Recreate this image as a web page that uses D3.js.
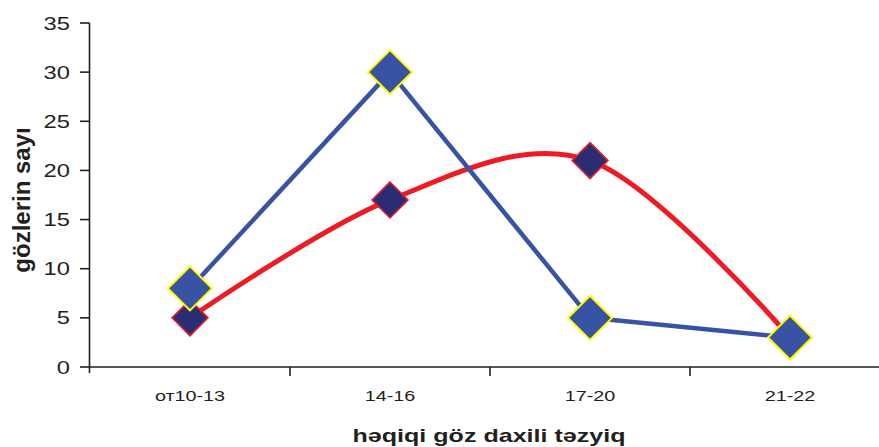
<!DOCTYPE html>
<html>
<head>
<meta charset="utf-8">
<script src="https://cdn.jsdelivr.net/npm/d3@7"></script>
<style>
  html, body { margin: 0; padding: 0; background: #fff; }
  svg { display: block; }
  text { font-family: "Liberation Sans", Arial, sans-serif; fill: #231f20; }
</style>
</head>
<body>
<svg id="chart" width="879" height="447"></svg>
<script>
// Pressure ranges on the x axis
const categories = ["от10-13", "14-16", "17-20", "21-22"];
// Eye counts per range, two groups
const seriesBlue = [8, 30, 5, 3];
const seriesRed = [5, 17, 21, 3];
const yTicks = [0, 5, 10, 15, 20, 25, 30, 35];

const W = 879, H = 447;
const svg = d3.select("#chart");
const sx = 1.32; // text is drawn wider than tall

const x = d3.scaleBand().domain(categories).range([90, 890]).paddingInner(0).paddingOuter(0);
const xc = c => x(c) + x.bandwidth() / 2;
const y = d3.scaleLinear().domain([0, 35]).range([367, 23]);

const axisColor = "#231f20";

// Y axis line and ticks
svg.append("line").attr("x1", 89.5).attr("x2", 89.5).attr("y1", y(35)).attr("y2", 373)
  .attr("stroke", axisColor).attr("stroke-width", 1.6);
yTicks.forEach(t => {
  svg.append("line").attr("x1", 80).attr("x2", 89.5).attr("y1", y(t)).attr("y2", y(t))
    .attr("stroke", axisColor).attr("stroke-width", 1.6);
  svg.append("g").attr("transform", `translate(70,${y(t) + 6.5}) scale(${sx},1)`)
    .append("text").attr("text-anchor", "end").attr("font-size", 18).text(t);
});

// X axis line, category boundary ticks and labels
svg.append("line").attr("x1", 89).attr("x2", W).attr("y1", 367).attr("y2", 367)
  .attr("stroke", axisColor).attr("stroke-width", 1.6);
categories.forEach((c, i) => {
  if (i > 0) {
    svg.append("line").attr("x1", x(c)).attr("x2", x(c)).attr("y1", 367).attr("y2", 376)
      .attr("stroke", axisColor).attr("stroke-width", 1.6);
  }
  svg.append("g").attr("transform", `translate(${xc(c)},401) scale(${sx},1)`)
    .append("text").attr("text-anchor", "middle").attr("font-size", 15).text(c);
});

// Axis titles
svg.append("g").attr("transform", `translate(489,442) scale(${sx},1)`)
  .append("text").attr("text-anchor", "middle").attr("font-size", 19).attr("font-weight", "bold")
  .text("həqiqi göz daxili təzyiq");
svg.append("g").attr("transform", `translate(30,200) rotate(-90)`)
  .append("text").attr("text-anchor", "middle").attr("font-size", 24).attr("font-weight", "bold")
  .text("gözlerin sayı");

const diamond = (r) => `M0,${-r}L${r},0L0,${r}L${-r},0Z`;

// Red series: smoothed line
const redLine = d3.line().x((d, i) => xc(categories[i])).y(d => y(d)).curve(d3.curveCardinal.tension(0));
svg.append("path").datum(seriesRed).attr("d", redLine)
  .attr("fill", "none").attr("stroke", "#ed1c24").attr("stroke-width", 5).attr("stroke-linejoin", "round");
svg.selectAll(".mred").data(seriesRed).enter().append("path")
  .attr("transform", (d, i) => `translate(${xc(categories[i])},${y(d)})`)
  .attr("d", diamond(18)).attr("fill", "#2a2d74").attr("stroke", "#ed1c24").attr("stroke-width", 1.5);

// Blue series: straight segments
const blueLine = d3.line().x((d, i) => xc(categories[i])).y(d => y(d));
svg.append("path").datum(seriesBlue).attr("d", blueLine)
  .attr("fill", "none").attr("stroke", "#3953a4").attr("stroke-width", 4.5).attr("stroke-linejoin", "round");
svg.selectAll(".mblue").data(seriesBlue).enter().append("path")
  .attr("transform", (d, i) => `translate(${xc(categories[i])},${y(d)})`)
  .attr("d", diamond(22)).attr("fill", "#3953a4").attr("stroke", "#ffff00").attr("stroke-width", 2);
</script>
</body>
</html>
